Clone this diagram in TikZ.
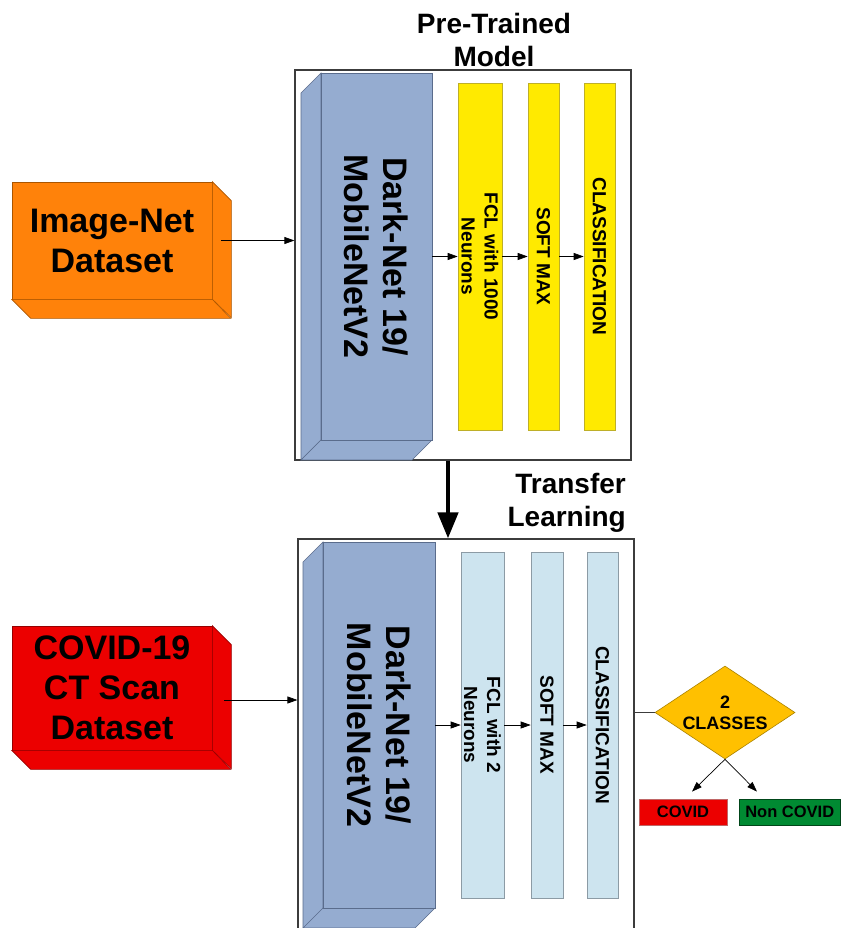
\documentclass[tikz,border=0pt]{standalone}
\usepackage{fontspec}
\setmainfont{Liberation Sans}
\usetikzlibrary{arrows.meta,shapes.geometric,calc}

\definecolor{orng}{RGB}{255,130,10}
\definecolor{orngedge}{RGB}{170,85,0}
\definecolor{rd}{RGB}{236,0,0}
\definecolor{rdedge}{RGB}{150,0,0}
\definecolor{dnblue}{RGB}{149,172,208}
\definecolor{dnedge}{RGB}{90,108,140}
\definecolor{ylw}{RGB}{255,234,0}
\definecolor{ylwedge}{RGB}{190,175,40}
\definecolor{lblue}{RGB}{205,228,239}
\definecolor{lbedge}{RGB}{140,155,165}
\definecolor{gold}{RGB}{255,192,0}
\definecolor{goldedge}{RGB}{170,130,0}
\definecolor{grn}{RGB}{0,138,50}
\definecolor{grnedge}{RGB}{0,70,25}
\definecolor{frame}{RGB}{60,60,60}

\begin{document}
\begin{tikzpicture}[x=1pt,y=-1pt,
  container/.style={rectangle, draw=frame, line width=1.2pt, fill=white, inner sep=0},
  dsface/.style={rectangle, inner sep=0, line width=0.6pt, font=\bfseries\fontsize{34}{40}\selectfont, align=center},
  dnface/.style={rectangle, draw=dnedge, fill=dnblue, line width=0.6pt, inner sep=0, rotate=-90, font=\bfseries\fontsize{34}{39}\selectfont, align=center},
  dnside/.style={draw=dnedge, fill=dnblue, line width=0.6pt},
  bar/.style={rectangle, inner sep=0, line width=0.6pt, rotate=-90, font=\bfseries\fontsize{19}{23}\selectfont, align=center},
  ybar/.style={bar, draw=ylwedge, fill=ylw},
  lbar/.style={bar, draw=lbedge, fill=lblue},
  arr/.style={-{Triangle[length=10pt,width=7pt]}, line width=0.7pt, draw=black},
  bigarr/.style={-{Triangle[length=26pt,width=20pt]}, line width=4.5pt, draw=black},
  title/.style={inner sep=0, font=\bfseries\fontsize{28}{33}\selectfont, align=center},
  outbox/.style={rectangle, inner sep=0, line width=0.8pt, font=\bfseries\fontsize{16.5}{19}\selectfont, minimum height=26}
]
\useasboundingbox (0,0) rectangle (841,928);
\clip (0,0) rectangle (841,928);

% containers
\node[container, minimum width=336, minimum height=390] (pt) at (463,265) {};
\node[container, minimum width=336, minimum height=411] (pb) at (466,744.5) {};

% titles
\node[title] (ttl) at (494,39.5) {Pre-Trained\\Model};
\node[title, align=right, anchor=east] (trl) at (626,502.5) {Transfer\\Learning};

% Image-Net dataset box
\node[dsface, fill=orng, draw=orngedge, minimum width=200, minimum height=117] (imn) at (112,240.5) {Image-Net\\Dataset};
\draw[fill=orng, draw=orngedge, line width=0.6pt] (imn.north east) -- ++(19,19) -- ++(0,117) -- (imn.south east) -- cycle;
\draw[fill=orng, draw=orngedge, line width=0.6pt] (imn.south west) -- ++(19,19) -- ++(200,0) -- (imn.south east) -- cycle;

% COVID dataset box
\node[dsface, fill=rd, draw=rdedge, minimum width=200, minimum height=124] (cov) at (112,688) {COVID-19\\CT Scan\\Dataset};
\draw[fill=rd, draw=rdedge, line width=0.6pt] (cov.north east) -- ++(19,19) -- ++(0,124) -- (cov.south east) -- cycle;
\draw[fill=rd, draw=rdedge, line width=0.6pt] (cov.south west) -- ++(19,19) -- ++(200,0) -- (cov.south east) -- cycle;

% top Dark-Net block
\draw[dnside] (321,73) -- (301,93) -- (301,460) -- (321,440) -- cycle;
\draw[dnside] (321,440) -- (432,440) -- (412,460) -- (301,460) -- cycle;
\node[dnface, minimum width=367, minimum height=111] (dn1) at (376.5,256.5) {Dark-Net 19/\\MobileNetV2};

% top bars
\node[ybar, minimum width=347, minimum height=44] (fcl1) at (480,256.5) {FCL with 1000\\Neurons};
\node[ybar, minimum width=347, minimum height=31] (sm1) at (543.5,256.5) {SOFT MAX};
\node[ybar, minimum width=347, minimum height=31] (cl1) at (599.5,256.5) {CLASSIFICATION};

% bottom Dark-Net block
\draw[dnside] (323,542) -- (303,562) -- (303,940) -- (323,920) -- cycle;
\draw[dnside] (323,908) -- (435,908) -- (415,928) -- (303,928) -- cycle;
\node[dnface, minimum width=366, minimum height=112] (dn2) at (379,725) {Dark-Net 19/\\MobileNetV2};

% bottom bars
\node[lbar, minimum width=346, minimum height=43] (fcl2) at (482.5,725) {FCL with 2\\Neurons};
\node[lbar, minimum width=346, minimum height=32] (sm2) at (547,725) {SOFT MAX};
\node[lbar, minimum width=346, minimum height=31] (cl2) at (602.5,725) {CLASSIFICATION};

% arrows inside
\draw[arr] (dn1) -- (fcl1);
\draw[arr] (fcl1) -- (sm1);
\draw[arr] (sm1) -- (cl1);
\draw[arr] (dn2) -- (fcl2);
\draw[arr] (fcl2) -- (sm2);
\draw[arr] (sm2) -- (cl2);

% inputs
\coordinate (imout) at ($(imn.east)+(9,0)$);
\draw[arr] (imout) -- (imout -| pt.west);
\coordinate (covout) at ($(cov.east)+(12,12)$);
\draw[arr] (covout) -- (covout -| pb.west);

% transfer arrow
\coordinate (tr) at ($(pt.south)+(-15,0)$);
\draw[bigarr] (tr) -- (tr |- pb.north);

% decision
\node[diamond, draw=goldedge, fill=gold, line width=0.6pt, minimum width=140, minimum height=93, aspect=1.5, inner sep=0, font=\bfseries\fontsize{18}{21}\selectfont, align=center] (dia) at (725,712.5) {2\\CLASSES};
\draw[line width=0.8pt, draw=frame] (pb.east |- dia.west) -- (dia.west);

\node[outbox, fill=rd, draw=rdedge!60, minimum width=88] (cvd) at (683,812) {COVID};
\node[outbox, fill=grn, draw=grnedge, minimum width=101.5] (ncv) at (789.75,812) {Non COVID};
\draw[arr] (dia.south) -- ($(cvd.north)+(9,-7)$);
\draw[arr] (dia.south) -- ($(ncv.north)+(-32.75,-7)$);
\end{tikzpicture}
\end{document}
